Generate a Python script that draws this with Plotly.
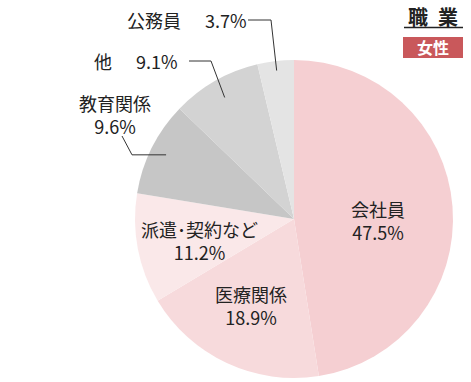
import math
import plotly.graph_objects as go

categories = ["会社員", "医療関係", "派遣･契約など", "教育関係", "他", "公務員"]
values = [47.5, 18.9, 11.2, 9.6, 9.1, 3.7]
colors = ["#f5cfd2", "#f7dadc", "#fae8e9", "#c6c6c6", "#d3d3d3", "#e4e4e4"]
title_text = "職\u2002業"
badge_text = "女性"

W, H = 471, 382
CX, CY, R = 294, 219, 159
FONT = "Noto Sans CJK JP"
FS = 18
TXT = "#222"


def px(x):
    return x / W


def py(y):
    return 1 - y / H


def slice_point(i, frac):
    total = sum(values)
    cum = sum(values[:i]) + values[i] / 2
    th = 2 * math.pi * cum / total
    return CX + frac * R * math.sin(th), CY - frac * R * math.cos(th)


fig = go.Figure(go.Pie(
    labels=categories, values=values, sort=False, direction="clockwise",
    rotation=0, marker=dict(colors=colors, line=dict(width=0)),
    textinfo="none", hoverinfo="label+percent", showlegend=False,
    domain=dict(x=[px(CX - R), px(CX + R)], y=[py(CY + R), py(CY - R)]),
))

annotations = []
shapes = []


def text(x, y, s, anchor="center", size=FS, color=TXT, bold=False):
    annotations.append(dict(
        x=px(x), y=py(y), xref="paper", yref="paper", showarrow=False,
        xanchor=anchor, yanchor="middle", align="center",
        text=f"<b>{s}</b>" if bold else s,
        font=dict(family=FONT, size=size, color=color)))


def two_line(i, x, yc):
    text(x, yc, f"{categories[i]}<br>{values[i]}%")


# inside labels (text placement)
two_line(0, 378, 220)
two_line(1, 251, 305)
two_line(2, 199, 240)

# outside labels
two_line(3, 115, 114)
text(103, 61, categories[4])
text(134, 61, f"{values[4]}%", anchor="left")
text(154, 20, categories[5])
text(203, 20, f"{values[5]}%", anchor="left")

line_style = dict(color="#333", width=1)
ex, ey = slice_point(3, 0.9)
shapes.append(dict(type="path", xref="paper", yref="paper",
                   path=f"M {px(122)},{py(136)} L {px(132)},{py(ey)} L {px(ex)},{py(ey)}",
                   line=line_style))
ex, ey = slice_point(4, 0.88)
shapes.append(dict(type="path", xref="paper", yref="paper",
                   path=f"M {px(189)},{py(61)} L {px(211)},{py(61)} L {px(ex)},{py(ey)}",
                   line=line_style))
ex, ey = slice_point(5, 0.94)
shapes.append(dict(type="path", xref="paper", yref="paper",
                   path=f"M {px(248)},{py(20)} L {px(271)},{py(20)} L {px(ex)},{py(ey)}",
                   line=line_style))

# title and badge
text(433, 16, title_text, size=20, bold=True)
shapes.append(dict(type="line", xref="paper", yref="paper",
                   x0=px(404), x1=px(463), y0=py(27.5), y1=py(27.5),
                   line=dict(color="#222", width=1.5)))
shapes.append(dict(type="rect", xref="paper", yref="paper",
                   x0=px(403), x1=px(463), y0=py(37), y1=py(58),
                   fillcolor="#c9585b", line=dict(width=0)))
text(433, 47.5, badge_text, size=16, color="white", bold=True)

fig.update_layout(width=W, height=H, margin=dict(l=0, r=0, t=0, b=0),
                  paper_bgcolor="white", plot_bgcolor="white",
                  annotations=annotations, shapes=shapes)
fig.write_html("out.html", config={"displayModeBar": False},
               post_script="document.body.style.margin='0';")
